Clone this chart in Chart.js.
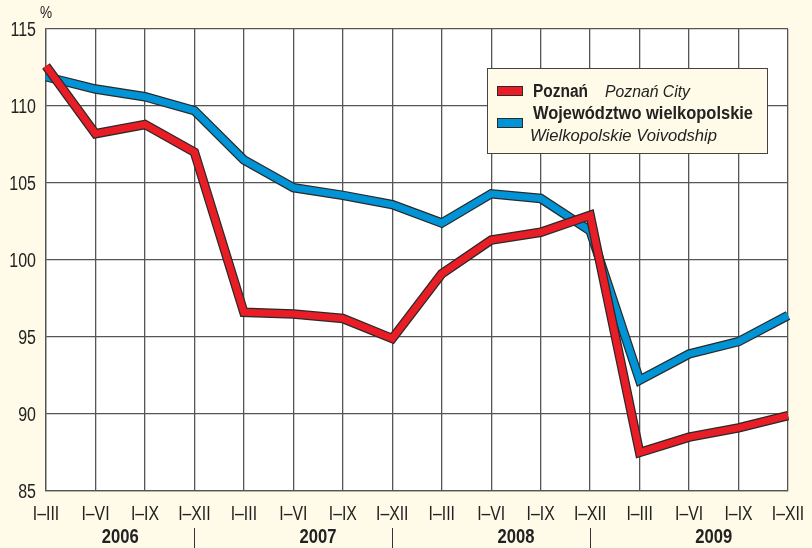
<!DOCTYPE html>
<html>
<head>
<meta charset="utf-8">
<script src="https://cdn.jsdelivr.net/npm/chart.js@4.4.1/dist/chart.umd.min.js"></script>
<style>
  html, body { margin: 0; padding: 0; background: #fffbe8; }
  #wrap { width: 812px; height: 548px; position: relative; }
</style>
</head>
<body>
<div id="wrap"><canvas id="chart" width="812" height="548"></canvas></div>
<script>
// quarter labels (cumulative periods), 4 per year
const quarters = ['I–III', 'I–VI', 'I–IX', 'I–XII',
                  'I–III', 'I–VI', 'I–IX', 'I–XII',
                  'I–III', 'I–VI', 'I–IX', 'I–XII',
                  'I–III', 'I–VI', 'I–IX', 'I–XII'];
const years = ['2006', '2007', '2008', '2009'];

// values
const poznan = [112.6, 108.2, 108.8, 107.0, 96.6, 96.5, 96.2, 94.9,
                99.1, 101.3, 101.8, 102.9, 87.5, 88.5, 89.1, 89.9];
const wielkopolska = [111.9, 111.1, 110.6, 109.7, 106.5, 104.7, 104.2, 103.6,
                      102.4, 104.3, 104.0, 101.9, 92.2, 93.9, 94.7, 96.4];

const redCol = '#e81d25';
const blueCol = '#0093d5';
const edgeCol = '#2a2a2a';
const textCol = '#222';
const fontFam = '"Liberation Sans", Arial, sans-serif';

// line with dark edge = two datasets stacked on top of each other
function lineSet(data, color, width, order) {
  return {
    data: data,
    borderColor: color,
    borderWidth: width,
    pointRadius: 0,
    tension: 0,
    borderJoinStyle: 'miter',
    borderCapStyle: 'butt',
    fill: false,
    order: order
  };
}

// the original uses a condensed face, so squeeze the text sideways
function condText(ctx, text, x, y, font, sx, align, baseline) {
  ctx.save();
  ctx.font = font;
  ctx.textAlign = align;
  ctx.textBaseline = baseline || 'middle';
  ctx.translate(x, y);
  ctx.scale(sx, 1);
  ctx.fillText(text, 0, 0);
  ctx.restore();
}

// same, but squeezed to a given width
function fitText(ctx, text, x, y, font, width) {
  ctx.save();
  ctx.font = font;
  const sx = width / ctx.measureText(text).width;
  ctx.restore();
  condText(ctx, text, x, y, font, sx, 'left', 'alphabetic');
}

const extras = {
  id: 'extras',
  beforeDraw(chart) {
    const ctx = chart.ctx;
    const a = chart.chartArea;
    ctx.save();
    ctx.fillStyle = '#fffbe8';
    ctx.fillRect(0, 0, chart.width, chart.height);
    ctx.fillStyle = '#ffffff';
    ctx.fillRect(a.left, a.top, a.right - a.left, a.bottom - a.top);
    ctx.restore();
  },
  afterDraw(chart) {
    const ctx = chart.ctx;
    const x = chart.scales.x;
    const y = chart.scales.y;
    ctx.save();
    ctx.fillStyle = textCol;

    // % unit
    condText(ctx, '%', 46, 14, '16px ' + fontFam, 0.85, 'center');

    // y tick labels
    y.ticks.forEach(t => {
      condText(ctx, String(t.value), 36, y.getPixelForValue(t.value) + 1.5,
               '20px ' + fontFam, 0.8, 'right');
    });

    // x tick labels
    quarters.forEach((q, i) => {
      condText(ctx, q, x.getPixelForValue(i), 514, '20px ' + fontFam, 0.79, 'center');
    });

    // year labels and separators
    years.forEach((yr, i) => {
      const x0 = x.getPixelForValue(i * 4);
      const x1 = x.getPixelForValue(i * 4 + 3);
      condText(ctx, yr, (x0 + x1) / 2, 537, 'bold 20px ' + fontFam, 0.83, 'center');
      if (i < years.length - 1) {
        ctx.strokeStyle = '#333';
        ctx.lineWidth = 1;
        ctx.beginPath();
        ctx.moveTo(Math.round(x1) + 0.5, 528);
        ctx.lineTo(Math.round(x1) + 0.5, 548);
        ctx.stroke();
      }
    });

    // legend box
    ctx.fillStyle = '#fffbe8';
    ctx.fillRect(487, 68, 280, 85);
    ctx.strokeStyle = '#444';
    ctx.lineWidth = 1;
    ctx.strokeRect(487.5, 68.5, 280, 85);

    ctx.strokeStyle = edgeCol;
    ctx.fillStyle = redCol;
    ctx.fillRect(497, 86, 26, 10);
    ctx.strokeRect(497.5, 86.5, 25, 9);
    ctx.fillStyle = blueCol;
    ctx.fillRect(497, 118, 26, 10);
    ctx.strokeRect(497.5, 118.5, 25, 9);

    ctx.fillStyle = textCol;
    fitText(ctx, 'Poznań', 533, 96.5, 'bold 18px ' + fontFam, 55);
    fitText(ctx, 'Województwo wielkopolskie', 533, 118.5, 'bold 18px ' + fontFam, 220);
    fitText(ctx, 'Poznań City', 605, 96.5, 'italic 17px ' + fontFam, 85);
    fitText(ctx, 'Wielkopolskie Voivodship', 530, 141, 'italic 17px ' + fontFam, 187);
    ctx.restore();
  }
};

new Chart(document.getElementById('chart'), {
  type: 'line',
  data: {
    labels: quarters,
    datasets: [
      lineSet(wielkopolska, edgeCol, 9.5, 4),
      lineSet(wielkopolska, blueCol, 7, 3),
      lineSet(poznan, edgeCol, 9.5, 2),
      lineSet(poznan, redCol, 7, 1)
    ]
  },
  options: {
    responsive: false,
    animation: false,
    events: [],
    layout: { padding: { top: 29, right: 24, left: 0, bottom: 0 } },
    plugins: { legend: { display: false }, tooltip: { enabled: false } },
    scales: {
      x: {
        offset: false,
        grid: { color: '#555', lineWidth: 1.3, drawTicks: false },
        border: { color: '#555', width: 1.3 },
        ticks: { display: false, autoSkip: false, maxRotation: 0 },
        afterFit(scale) { scale.height = 57; }
      },
      y: {
        min: 85,
        max: 115,
        grid: { color: '#555', lineWidth: 1.3, drawTicks: false },
        border: { color: '#555', width: 1.3 },
        ticks: { display: false, stepSize: 5 },
        afterFit(scale) { scale.width = 46; }
      }
    }
  },
  plugins: [extras]
});
</script>
</body>
</html>
